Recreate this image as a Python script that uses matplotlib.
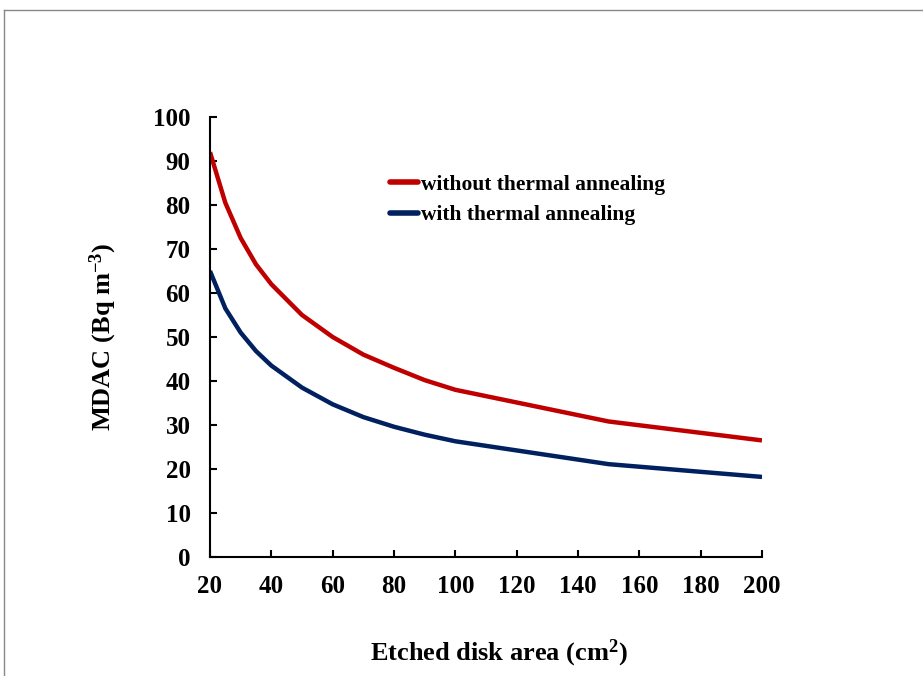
#!/usr/bin/env python3
"""MDAC vs etched disk area, with / without thermal annealing."""

import matplotlib

matplotlib.use("Agg")
import matplotlib.pyplot as plt
from matplotlib.lines import Line2D

plt.rcParams["font.family"] = ["Liberation Serif", "DejaVu Serif"]
plt.rcParams["font.weight"] = "bold"
plt.rcParams["mathtext.fontset"] = "custom"
plt.rcParams["mathtext.rm"] = "Liberation Serif:bold"
plt.rcParams["mathtext.bf"] = "Liberation Serif:bold"
plt.rcParams["mathtext.default"] = "bf"

# data
area = [20, 25, 30, 35, 40, 50, 60, 70, 80, 90, 100, 150, 200]
mdac_no_anneal = [92, 80.5, 72.5, 66.5, 62, 55, 50, 46, 43, 40.2, 38, 30.8, 26.5]
mdac_anneal = [65, 56.5, 51, 46.8, 43.5, 38.5, 34.7, 31.8, 29.6, 27.8, 26.3, 21.1, 18.2]
series_labels = ["without thermal annealing", "with thermal annealing"]
x_ticks = list(range(20, 201, 20))
y_ticks = list(range(0, 101, 10))


def main() -> None:
    fig = plt.figure(figsize=(9.23, 6.76), dpi=100)
    ax = fig.add_axes([210 / 923, 119 / 676, 552 / 923, 440 / 676])

    ax.plot(area, mdac_no_anneal, color="#C00000", lw=3.2, label=series_labels[0],
            solid_capstyle="butt", solid_joinstyle="round")
    ax.plot(area, mdac_anneal, color="#002060", lw=3.2, label=series_labels[1],
            solid_capstyle="butt", solid_joinstyle="round")

    ax.set_xlim(20, 200)
    ax.set_ylim(0, 100)
    ax.set_xticks(x_ticks)
    ax.set_yticks(y_ticks)
    ax.tick_params(direction="in", length=5, width=1.5, labelsize=18, pad=13)
    ax.tick_params(axis="y", pad=14)
    for side in ("top", "right"):
        ax.spines[side].set_visible(False)
    for side in ("left", "bottom"):
        ax.spines[side].set_linewidth(1.5)

    ax.set_xlabel("Etched disk area (cm$^{2}$)", fontsize=19, fontweight="bold")
    ax.xaxis.set_label_coords(0.523, -0.183)
    ax.set_ylabel("MDAC (Bq m$^{-3}$)", fontsize=19, fontweight="bold")
    ax.yaxis.set_label_coords(-0.165, 0.5)

    leg = ax.legend(loc="upper left", bbox_to_anchor=(0.326, 0.869), frameon=False,
                    fontsize=15.5, handlelength=1.3, handletextpad=0.12,
                    labelspacing=0.48, borderpad=0, borderaxespad=0)
    for h in leg.legend_handles:
        h.set_linewidth(4)
        h.set_solid_capstyle("round")

    # gray frame (top and left edge only)
    fig.add_artist(Line2D([4 / 923, 1.0], [1 - 10 / 676, 1 - 10 / 676],
                          transform=fig.transFigure, color="#888888", lw=1.0))
    fig.add_artist(Line2D([4 / 923, 4 / 923], [0.0, 1 - 10 / 676],
                          transform=fig.transFigure, color="#888888", lw=1.0))

    fig.savefig("out.png", dpi=100)
    plt.close(fig)


if __name__ == "__main__":
    main()
